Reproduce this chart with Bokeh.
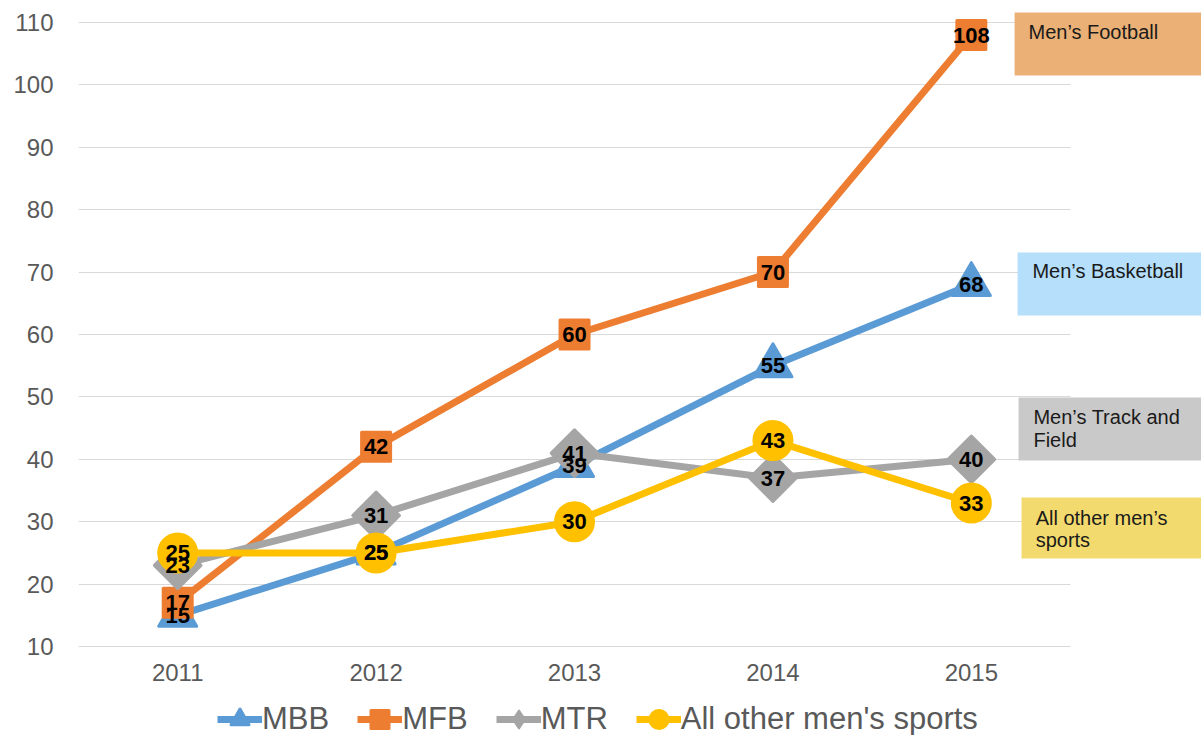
from bokeh.plotting import figure
from bokeh.models import Range1d, FixedTicker, Legend, LegendItem, ColumnDataSource
from bokeh.core.properties import value
from bokeh.embed import file_html
from bokeh.resources import INLINE
import math

# ---------------- data ----------------
years = ["2011", "2012", "2013", "2014", "2015"]
mbb = [15, 25, 39, 55, 68]
mfb = [17, 42, 60, 70, 108]
mtr = [23, 31, 41, 37, 40]
other = [25, 25, 30, 43, 33]
series_names = ["MBB", "MFB", "MTR", "All other men's sports"]
y_ticks = [10, 20, 30, 40, 50, 60, 70, 80, 90, 100, 110]

note_texts = [["Men\u2019s Football"], ["Men\u2019s Basketball"],
              ["Men\u2019s Track and", "Field"], ["All other men\u2019s", "sports"]]

# ---------------- styling / layout ----------------
FONT = "Liberation Sans"
W, H = 1201, 735
colors = ["#5B9BD5", "#ED7D31", "#A5A5A5", "#FFC000"]
markers = ["triangle", "square", "square", "circle"]
legend_markers = [None, None, "diamond", None]
msizes = [38, 29, 33, 38]
mangles = [0, 0, math.pi / 4, 0]

# note boxes: (left, right, top, bottom) in data units, text x, text baselines
note_fill = ["#EAB076", "#B5DFFB", "#C9C9C9", "#F3DA6E"]
note_boxes = [(4.218, 5.2, 111.6, 101.5), (4.233, 5.2, 73.14, 63.04),
              (4.238, 5.2, 49.9, 39.81), (4.253, 5.2, 33.88, 24.1)]
note_text_x = [4.288, 4.308, 4.313, 4.324]
NOTE_SHIFT = 1.28
note_text_y = [[107.2], [68.9], [45.5, 41.8], [29.3, 25.8]]

x = list(range(len(years)))

p = figure(width=W, height=H, output_backend="svg", toolbar_location=None,
           x_range=Range1d(-0.5, 5.16), y_range=Range1d(-4.26, 113.53),
           min_border_left=78, min_border_right=0, min_border_top=0,
           min_border_bottom=0)
p.outline_line_color = None
p.background_fill_color = "white"
p.border_fill_color = "white"

p.xgrid.visible = False
p.ygrid.ticker = FixedTicker(ticks=y_ticks)
p.ygrid.grid_line_color = "#D9D9D9"
p.ygrid.grid_line_width = 1
grid_ok = True
try:
    p.ygrid.cross_bounds = (-0.5, 4.5)
except Exception:
    grid_ok = False
    p.ygrid.visible = False
if not grid_ok:
    p.segment(x0=[-0.5] * len(y_ticks), x1=[4.5] * len(y_ticks), y0=y_ticks,
              y1=y_ticks, line_color="#D9D9D9", line_width=1, level="underlay")

for ax in (p.xaxis, p.yaxis):
    ax.axis_line_color = None
    ax.major_tick_line_color = None
    ax.minor_tick_line_color = None
    ax.major_tick_out = 0
    ax.major_tick_in = 0
    ax.major_label_text_font = FONT
    ax.major_label_text_font_size = "24px"
    ax.major_label_text_color = "#595959"

p.yaxis.ticker = FixedTicker(ticks=y_ticks)
p.yaxis.major_label_standoff = 25
p.xaxis.ticker = FixedTicker(ticks=x)
p.xaxis.major_label_overrides = {i: y for i, y in enumerate(years)}
p.xaxis.major_label_standoff = 17
p.xaxis.fixed_location = y_ticks[0]

# note boxes
for i in range(4):
    l, r, t, b = note_boxes[i]
    p.quad(left=[l], right=[r], top=[t], bottom=[b], fill_color=note_fill[i],
           line_color=None)
    for line_txt, ty in zip(note_texts[i], note_text_y[i]):
        p.text(x=[note_text_x[i]], y=[ty + NOTE_SHIFT], text=[line_txt],
               text_font=value(FONT), text_font_size="20px",
               text_color="#1A1A1A", text_baseline="alphabetic",
               text_align="left")

# series
all_vals = [mbb, mfb, mtr, other]
items = []
for i, vals in enumerate(all_vals):
    src = ColumnDataSource(dict(x=x, y=vals))
    lr = p.line("x", "y", source=src, line_color=colors[i], line_width=7,
                line_join="round")
    lg = None
    if legend_markers[i]:
        # un-rotated diamond (legend glyphs ignore rotation); sits under the
        # rotated square drawn next, so only the legend shows it
        lg = p.scatter("x", "y", source=src, marker=legend_markers[i], size=40,
                       fill_color=colors[i], line_color=colors[i], line_width=2,
                       line_join="round")
    sr = p.scatter("x", "y", source=src, marker=markers[i], size=msizes[i],
                   angle=mangles[i], fill_color=colors[i], line_color=colors[i],
                   line_width=3, line_join="round")
    items.append(LegendItem(label=series_names[i], renderers=[lr, lg or sr]))

for i, vals in enumerate(all_vals):
    p.text(x=x, y=vals, text=[str(v) for v in vals], text_font=value(FONT),
           text_font_style="bold", text_font_size="22px", text_color="black",
           text_align="center", text_baseline="middle")

legend = Legend(items=items, orientation="horizontal", location=(139, -8),
                label_text_font=FONT, label_text_font_size="31px",
                label_text_color="#595959", glyph_width=45, glyph_height=48,
                label_standoff=0, spacing=28, padding=0, margin=0,
                border_line_color=None, background_fill_alpha=0)
p.add_layout(legend, "center")

open("out.html", "w").write(file_html(p, INLINE))
